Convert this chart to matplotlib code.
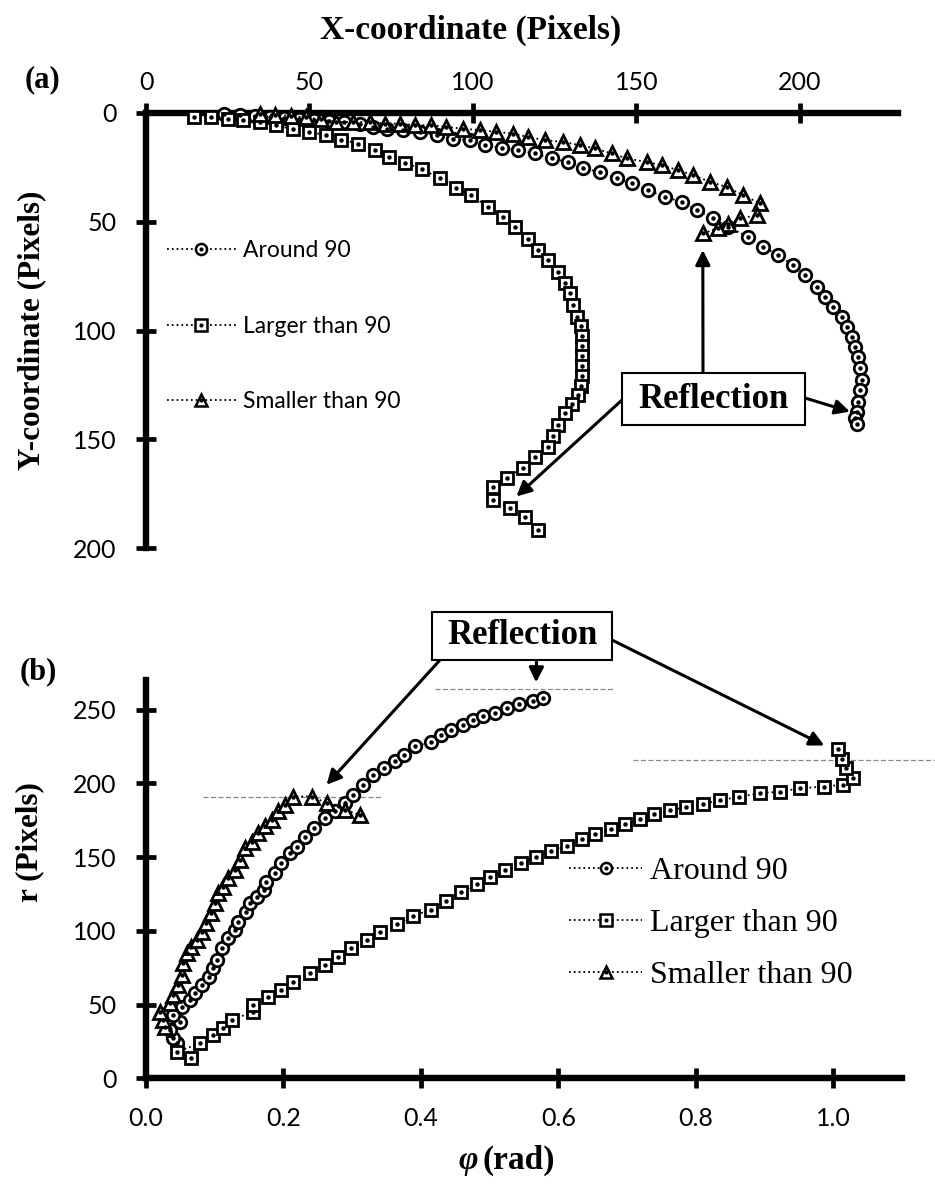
import numpy as np
import matplotlib
matplotlib.use('Agg')
import matplotlib.pyplot as plt
from matplotlib.lines import Line2D
from matplotlib.legend_handler import HandlerTuple
from matplotlib.patches import Rectangle

# ---- data: panel (a), trajectories in pixel coordinates ----
around_x = [24.0, 28.6, 33.2, 37.8, 42.3, 46.9, 51.5, 56.1, 60.7, 65.3, 69.3, 73.6, 78.5, 83.7, 88.9,
            93.8, 99.0, 103.6, 108.8, 113.7, 118.9, 124.1, 129.0, 133.6, 138.8, 144.0, 148.6, 153.5,
            158.7, 163.9, 168.5, 173.4, 178.0, 184.1, 188.7, 193.3, 197.9, 201.6, 205.2, 207.7, 210.1,
            212.9, 214.4, 215.9, 216.9, 217.8, 218.4, 219.0, 218.4, 217.8, 217.5, 216.9, 217.5]
around_y = [0.6, 1.1, 1.5, 2.0, 2.4, 2.9, 3.4, 3.8, 4.3, 5.2, 6.3, 7.2, 7.9, 8.7, 10.2,
            11.8, 12.5, 14.8, 16.3, 17.1, 18.6, 20.9, 22.5, 25.5, 27.1, 30.1, 32.4, 35.5,
            38.6, 40.9, 44.7, 48.5, 52.3, 56.9, 61.5, 65.3, 69.9, 74.5, 79.9, 84.5, 89.1,
            93.7, 98.3, 102.8, 107.4, 112.0, 117.4, 122.7, 127.3, 132.7, 137.3, 140.2, 142.9]

larger_x = [14.8, 19.9, 25.0, 29.6, 34.9, 39.8, 44.9, 50.0, 55.1, 59.7, 64.8, 69.9, 74.3, 79.3, 84.5,
            89.8, 94.9, 99.5, 104.6, 109.2, 112.8, 116.8, 119.9, 123.0, 126.0, 128.1, 129.6, 130.6,
            131.7, 133.0, 133.3, 133.3, 133.3, 133.3, 133.3, 133.0, 132.2, 130.2, 128.1, 126.0,
            124.4, 122.9, 118.9, 115.2, 110.3, 106.0, 106.0, 111.2, 115.8, 119.8]
larger_y = [1.8, 1.8, 2.6, 3.4, 4.1, 5.6, 7.5, 8.7, 10.2, 12.2, 14.1, 16.8, 20.2, 23.0, 25.8,
            30.1, 34.3, 37.8, 43.2, 47.8, 52.3, 58.1, 63.0, 67.6, 73.0, 78.3, 82.9, 88.3,
            93.7, 97.9, 102.5, 107.1, 111.7, 116.3, 120.9, 125.5, 129.6, 133.7, 137.9, 143.4,
            148.4, 153.5, 158.1, 163.1, 167.8, 171.9, 177.8, 181.5, 185.6, 191.6]

smaller_x = [35.0, 39.6, 44.2, 48.8, 53.4, 58.2, 63.3, 68.4, 73.0, 77.6, 82.2, 87.3, 91.9, 96.9,
             102.1, 107.2, 112.2, 116.8, 122.0, 127.6, 132.7, 137.3, 142.4, 147.0, 153.1, 157.7,
             162.8, 167.4, 172.5, 177.6, 182.7, 187.8, 186.8, 181.7, 178.0, 174.9, 170.4]
smaller_y = [0.6, 0.8, 1.3, 2.0, 2.9, 4.1, 4.1, 4.1, 4.9, 4.9, 5.6, 5.6, 6.4, 7.2,
             7.9, 8.7, 9.5, 11.0, 12.5, 13.3, 14.8, 16.3, 18.6, 20.9, 22.5, 24.0,
             26.3, 28.6, 31.7, 34.0, 37.8, 41.6, 47.0, 48.5, 51.1, 52.9, 55.4]

# ---- data: panel (b), r versus phi ----
around_phi = [0.045, 0.040, 0.035, 0.049, 0.040, 0.052, 0.064, 0.071, 0.081, 0.091, 0.098, 0.103,
              0.110, 0.120, 0.129, 0.134, 0.146, 0.151, 0.161, 0.171, 0.175, 0.187, 0.197, 0.209,
              0.219, 0.231, 0.245, 0.260, 0.275, 0.289, 0.301, 0.316, 0.330, 0.347, 0.362, 0.376,
              0.391, 0.414, 0.429, 0.444, 0.461, 0.476, 0.491, 0.508, 0.525, 0.543, 0.5625, 0.577]
around_r = [23.7, 27.1, 32.8, 38.4, 42.9, 48.6, 53.1, 57.7, 63.3, 68.9, 74.6, 80.3,
            88.2, 95.0, 100.6, 106.2, 113.0, 118.6, 123.2, 127.7, 133.4, 139.0, 145.8, 152.6,
            157.1, 163.9, 169.6, 176.4, 180.9, 186.6, 192.2, 199.0, 205.8, 210.3, 214.9, 219.4,
            225.0, 227.9, 232.5, 236.0, 239.5, 243.0, 245.3, 247.6, 251.0, 253.4, 255.7, 258.0]

larger_phi = [0.066, 0.045, 0.0785, 0.098, 0.112, 0.125, 0.156, 0.156, 0.178, 0.197, 0.214, 0.238,
              0.260, 0.280, 0.299, 0.321, 0.340, 0.365, 0.389, 0.414, 0.436, 0.458, 0.481, 0.501,
              0.523, 0.545, 0.568, 0.590, 0.612, 0.635, 0.654, 0.677, 0.697, 0.719, 0.739, 0.763,
              0.786, 0.811, 0.835, 0.863, 0.893, 0.922, 0.952, 0.987, 1.014, 1.029, 1.019, 1.012, 1.007]
larger_r = [13.6, 18.0, 23.7, 29.4, 33.9, 39.6, 45.2, 49.7, 55.4, 59.9, 65.5, 71.2,
            76.9, 82.5, 88.2, 93.8, 99.5, 104.5, 110.0, 114.4, 120.2, 126.0, 131.8, 136.4,
            141.0, 145.7, 150.3, 153.8, 157.3, 161.9, 165.4, 168.9, 172.3, 175.8, 179.2, 181.6,
            183.9, 186.2, 188.5, 190.8, 193.2, 194.3, 196.6, 197.8, 199.0, 203.6, 210.5, 216.3, 223.3]

smaller_phi = [0.028, 0.025, 0.020, 0.035, 0.040, 0.047, 0.052, 0.054, 0.059, 0.066, 0.074, 0.081,
               0.088, 0.095, 0.100, 0.105, 0.112, 0.120, 0.129, 0.137, 0.144, 0.154, 0.163, 0.173,
               0.183, 0.192, 0.202, 0.214, 0.241, 0.263, 0.289, 0.311]
smaller_r = [35.0, 39.5, 45.2, 50.9, 56.5, 63.3, 70.1, 78.0, 84.8, 89.3, 93.8, 99.5,
             105.2, 111.9, 118.7, 125.5, 130.0, 135.7, 141.3, 148.1, 156.0, 160.5, 166.2, 170.7,
             175.2, 180.9, 185.4, 191.0, 191.0, 186.6, 182.0, 178.6]

# reflection reference levels (dashed) in panel (b)
ref_r = [191, 264, 216]
ref_phi_from = [0.083, 0.421, 0.709]
ref_phi_to = [0.345, 0.682, 1.147]

labels = ['Around 90', 'Larger than 90', 'Smaller than 90']
markers = ['o', 's', '^']

W, H = 935, 1186
def fx(px):
    return px / W
def fy(py):
    return 1 - py / H

serif = 'Liberation Serif'
sans = 'Lato'
tick_fs = 18

fig = plt.figure(figsize=(W / 100, H / 100), dpi=100)


def style_axes(ax):
    for s in ax.spines.values():
        s.set_linewidth(4.6)
    ax.tick_params(direction='inout', length=14, width=3.4, labelsize=tick_fs)
    for t in ax.get_xticklabels() + ax.get_yticklabels():
        t.set_family(sans)


def draw_series(ax, xs, ys, m, ms):
    ax.plot(xs, ys, linestyle=':', color='black', lw=1.3, marker=m, ms=ms,
            mfc='white', mec='black', mew=2.0, clip_on=False, zorder=3)
    ax.plot(xs, ys, linestyle='none', marker='o', ms=2.2, color='black',
            clip_on=False, zorder=4)


def add_arrow(ax, tip, start):
    ax.annotate('', xy=tip, xycoords='data', xytext=start, textcoords='figure fraction',
                arrowprops=dict(arrowstyle='-|>', color='black', lw=2.2, mutation_scale=22,
                                shrinkA=0, shrinkB=0), annotation_clip=False)


leg_h = [(Line2D([], [], ls=':', color='black', lw=1.3, marker=m, ms=8, mfc='white', mec='black', mew=1.8),
          Line2D([], [], ls='none', marker='o', ms=2, color='black')) for m in markers]

# ================= panel (a) =================
ax1 = fig.add_axes([fx(146), fy(548), fx(898) - fx(146), fy(113) - fy(548)])
ax1.set_xlim(0, 230)
ax1.set_ylim(200, 0)
ax1.xaxis.tick_top()
ax1.spines['bottom'].set_visible(False)
ax1.spines['right'].set_visible(False)
ax1.set_xticks([0, 50, 100, 150, 200])
ax1.set_yticks([0, 50, 100, 150, 200])
style_axes(ax1)
ax1.tick_params(axis='x', pad=7)
ax1.tick_params(axis='y', pad=14)

draw_series(ax1, around_x, around_y, 'o', 9)
draw_series(ax1, larger_x, larger_y, 's', 8.5)
draw_series(ax1, smaller_x, smaller_y, '^', 9.5)

fig.text(fx(471), fy(30), 'X-coordinate (Pixels)', ha='center', va='center',
         family=serif, weight='bold', fontsize=24)
fig.text(fx(32), fy(330), 'Y-coordinate (Pixels)', ha='center', va='center', rotation=90,
         family=serif, weight='bold', fontsize=22.5)

ax1.legend(leg_h, labels, loc='upper left', bbox_to_anchor=(fx(167), fy(240)),
           bbox_transform=fig.transFigure, frameon=False, prop={'family': sans, 'size': 16.5},
           handlelength=3.0, handletextpad=0.3, labelspacing=2.38, borderpad=0, borderaxespad=0,
           handler_map={tuple: HandlerTuple(ndivide=1, pad=0)})

fig.patches.append(Rectangle((fx(622), fy(425)), fx(805) - fx(622), fy(373) - fy(425),
                             transform=fig.transFigure, fc='white', ec='black', lw=1.5, zorder=5))
fig.text(fx(713.5), fy(399), 'Reflection', ha='center', va='center', family=serif,
         weight='bold', fontsize=25, zorder=6)
add_arrow(ax1, (170.3, 63.0), (fx(703), fy(373)))
add_arrow(ax1, (215.3, 137.3), (fx(805), fy(398)))
add_arrow(ax1, (113.3, 176.3), (fx(622), fy(400)))

fig.text(fx(42), fy(80), '(a)', ha='center', va='center', family=serif, weight='bold', fontsize=22)

# ================= panel (b) =================
ax2 = fig.add_axes([fx(146), fy(1078.3), fx(902) - fx(146), fy(680) - fy(1078.3)])
ax2.set_xlim(0, 1.1)
ax2.set_ylim(0, 270)
ax2.spines['top'].set_visible(False)
ax2.spines['right'].set_visible(False)
ax2.set_xticks([0, 0.2, 0.4, 0.6, 0.8, 1.0])
ax2.set_xticklabels(['0.0', '0.2', '0.4', '0.6', '0.8', '1.0'])
ax2.set_yticks([0, 50, 100, 150, 200, 250])
style_axes(ax2)
ax2.tick_params(axis='x', pad=14)
ax2.tick_params(axis='y', pad=14)

for r0, p0, p1 in zip(ref_r, ref_phi_from, ref_phi_to):
    ax2.plot([p0, p1], [r0, r0], color='#888888', lw=0.9, ls=(0, (4, 2)), clip_on=False, zorder=2)

draw_series(ax2, around_phi, around_r, 'o', 9)
draw_series(ax2, larger_phi, larger_r, 's', 8.5)
draw_series(ax2, smaller_phi, smaller_r, '^', 9.5)

fig.text(fx(478), fy(1160), 'φ', ha='right', va='center', family=serif, weight='bold',
         style='italic', fontsize=24)
fig.text(fx(482), fy(1160), '(rad)', ha='left', va='center', family=serif, weight='bold', fontsize=24)
fig.text(fx(30), fy(842), 'r (Pixels)', ha='center', va='center', rotation=90,
         family=serif, weight='bold', fontsize=22.5)

ax2.legend(leg_h, labels, loc='upper left', bbox_to_anchor=(fx(569), fy(857)),
           bbox_transform=fig.transFigure, frameon=False, prop={'family': serif, 'size': 23},
           handlelength=2.3, handletextpad=0.22, labelspacing=0.7, borderpad=0, borderaxespad=0,
           handler_map={tuple: HandlerTuple(ndivide=1, pad=0)})

fig.patches.append(Rectangle((fx(432), fy(660)), fx(612) - fx(432), fy(612) - fy(660),
                             transform=fig.transFigure, fc='white', ec='black', lw=1.5, zorder=5))
fig.text(fx(522), fy(636), 'Reflection', ha='center', va='center', family=serif,
         weight='bold', fontsize=25, zorder=6)
add_arrow(ax2, (0.2627, 199), (fx(440), fy(660)))
add_arrow(ax2, (0.5676, 268.4), (fx(536.5), fy(660)))
add_arrow(ax2, (0.987, 225.6), (fx(612), fy(640)))

fig.text(fx(38), fy(672), '(b)', ha='center', va='center', family=serif, weight='bold', fontsize=22)

fig.savefig('out.png', dpi=100)
